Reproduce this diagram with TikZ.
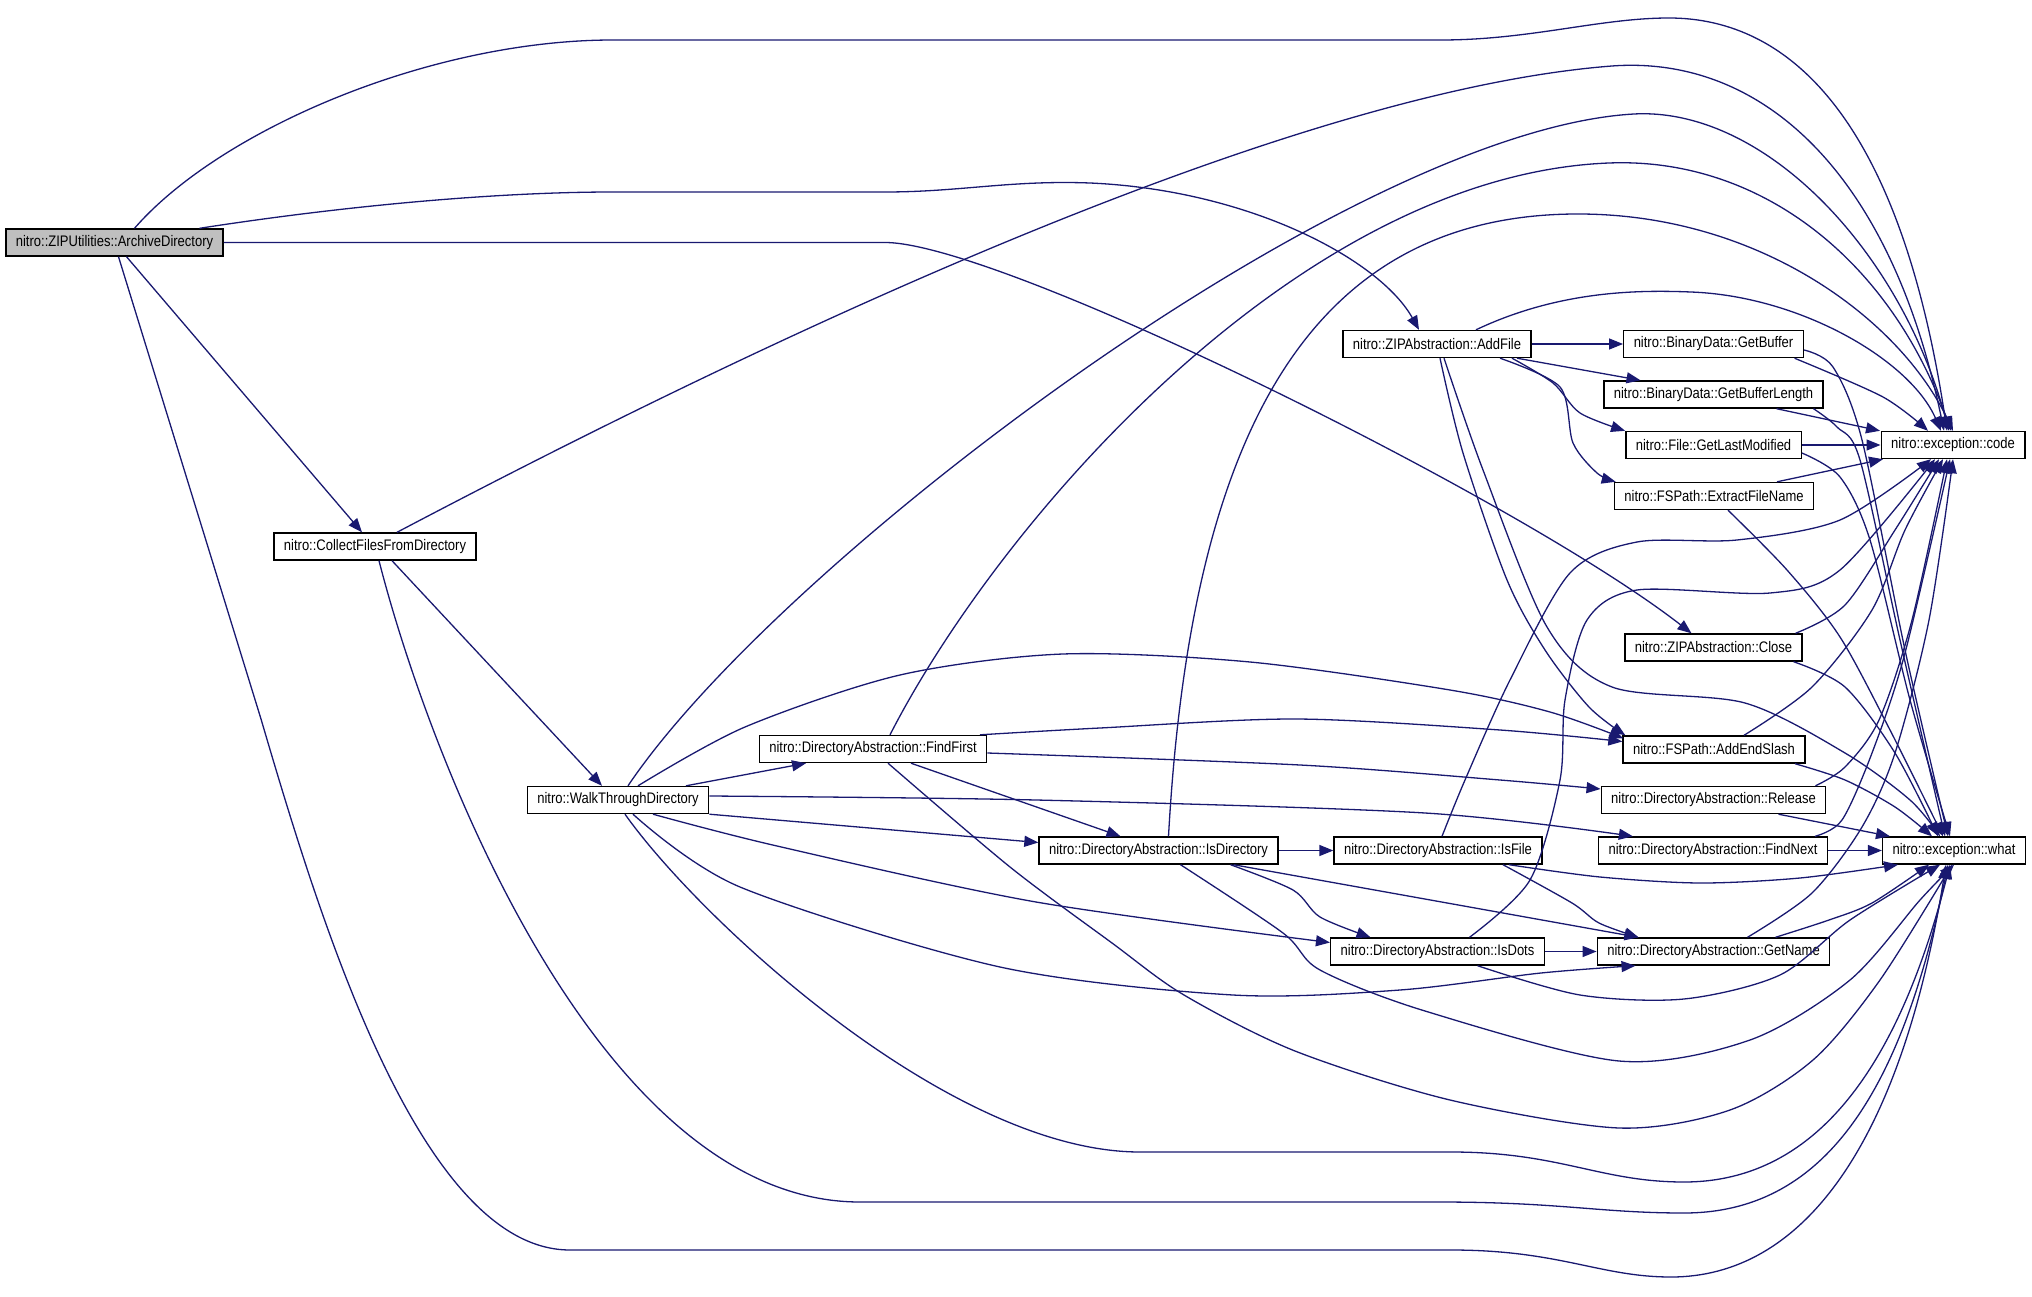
\documentclass[tikz,border=0pt]{standalone}
\usepackage{fontspec}
\newfontfamily\dotfont[FakeStretch=0.85]{Liberation Sans}
\usetikzlibrary{arrows.meta}
\definecolor{edgeblue}{RGB}{25,25,112}
\definecolor{rootgray}{RGB}{191,191,191}

\begin{document}
\begin{tikzpicture}[x=1pt,y=-1pt,
  fn/.style={draw=black, line width=1.4pt, fill=white, minimum height=27pt, inner xsep=10pt, inner ysep=0pt, font=\dotfont\fontsize{15.3pt}{16pt}\selectfont},
  root/.style={fn, fill=rootgray},
  call/.style={->, draw=edgeblue, line width=1.3pt, >={Triangle[length=14pt,width=11pt]}}]
\useasboundingbox (0,0) rectangle (2032,1297);

\node[root] (arch) at (114.5,242.5) {nitro::ZIPUtilities::ArchiveDirectory};
\node[fn] (collect) at (375,546.5) {nitro::CollectFilesFromDirectory};
\node[fn] (walk) at (618,800) {nitro::WalkThroughDirectory};
\node[fn] (findfirst) at (873,749) {nitro::DirectoryAbstraction::FindFirst};
\node[fn] (isdir) at (1158.5,850.5) {nitro::DirectoryAbstraction::IsDirectory};
\node[fn] (isfile) at (1438,850.5) {nitro::DirectoryAbstraction::IsFile};
\node[fn] (isdots) at (1437.5,951.5) {nitro::DirectoryAbstraction::IsDots};
\node[fn] (addfile) at (1437,344) {nitro::ZIPAbstraction::AddFile};
\node[fn] (getbuf) at (1713.5,344) {nitro::BinaryData::GetBuffer};
\node[fn] (getbuflen) at (1713.5,394.5) {nitro::BinaryData::GetBufferLength};
\node[fn] (lastmod) at (1713.5,445) {nitro::File::GetLastModified};
\node[fn] (extract) at (1714,496) {nitro::FSPath::ExtractFileName};
\node[fn] (close) at (1713.5,647.5) {nitro::ZIPAbstraction::Close};
\node[fn] (addslash) at (1714,749.5) {nitro::FSPath::AddEndSlash};
\node[fn] (release) at (1713.5,800) {nitro::DirectoryAbstraction::Release};
\node[fn] (findnext) at (1713,850.5) {nitro::DirectoryAbstraction::FindNext};
\node[fn] (getname) at (1713.5,951.5) {nitro::DirectoryAbstraction::GetName};
\node[fn] (code) at (1953,445) {nitro::exception::code};
\node[fn] (what) at (1954,850.5) {nitro::exception::what};

\draw[call] ([xshift=20pt]arch.north) .. controls (220,130) and (430,40) .. (613,40) -- (1441,40) .. controls (1530,40) and (1600,18) .. (1669,18) .. controls (1790,18) and (1900,120) .. ([xshift=-6pt]code.north);
\draw[call] ([xshift=85pt]arch.north) .. controls (350,205) and (500,192) .. (613,192) -- (885,192) .. controls (960,192) and (1010,180) .. (1090,183) .. controls (1250,190) and (1380,260) .. ([xshift=-18pt]addfile.north);
\draw[call] (arch.east) -- (885,242.5) .. controls (1000,242.5) and (1520,500) .. ([xshift=-22pt]close.north);
\draw[call] ([xshift=12pt]arch.south) -- ([xshift=-13pt]collect.north);
\draw[call] ([xshift=4pt]arch.south) -- (261,719) .. controls (320,920) and (420,1250) .. (570,1250) -- (1451,1250) .. controls (1560,1250) and (1600,1277) .. (1671,1277) .. controls (1800,1277) and (1900,1150) .. ([xshift=-8pt]what.south);

\draw[call] ([xshift=22pt]collect.north) .. controls (800,320) and (1300,90) .. (1612,66) .. controls (1760,55) and (1890,170) .. ([xshift=-9pt]code.north);
\draw[call] ([xshift=17pt]collect.south) -- ([xshift=-16pt]walk.north);
\draw[call] ([xshift=4pt]collect.south) .. controls (430,760) and (600,1202) .. (860,1202) -- (1438,1202) .. controls (1560,1202) and (1600,1213) .. (1684,1213) .. controls (1820,1213) and (1900,1100) .. ([xshift=-6pt]what.south);

\draw[call] ([xshift=10pt]walk.north) .. controls (780,560) and (1350,130) .. (1634,114) .. controls (1764,107) and (1900,250) .. ([xshift=-4pt]code.north);
\draw[call] ([xshift=68pt]walk.north) -- ([xshift=-67pt]findfirst.south);
\draw[call] plot[smooth] coordinates {([xshift=20pt]walk.north) (745,727) (900,675) (1063,654) (1250,662) (1450,690) (1550,712) ([xshift=1pt,yshift=-3pt]addslash.north west)};
\draw[call] plot[smooth] coordinates {([yshift=4pt]walk.east) (1036,800) (1425,813) ([xshift=35pt]findnext.north west)};
\draw[call] (walk.south east) -- ([yshift=8pt]isdir.west);
\draw[call] plot[smooth] coordinates {([xshift=35pt]walk.south) (777,846) (1036,902) ([yshift=9pt]isdots.west)};
\draw[call] plot[smooth] coordinates {([xshift=15pt]walk.south) (740,887) (1000,967) (1233,995) (1400,990) (1541,973) ([xshift=-78pt]getname.south)};
\draw[call] ([xshift=7pt]walk.south) .. controls (700,920) and (950,1152) .. (1140,1152) -- (1451,1152) .. controls (1560,1152) and (1600,1182) .. (1684,1182) .. controls (1820,1182) and (1900,1060) .. ([xshift=-4pt]what.south);

\draw[call] ([xshift=17pt]findfirst.north) .. controls (1000,520) and (1300,175) .. (1609,163) .. controls (1760,157) and (1890,260) .. ([xshift=-2pt]code.north);
\draw[call] plot[smooth] coordinates {([xshift=107pt]findfirst.north) (1100,728) (1296,719) (1500,730) ([yshift=8pt]addslash.west)};
\draw[call] plot[smooth] coordinates {([yshift=-4pt]findfirst.east) (1300,765) (1500,780) ([yshift=11pt]release.west)};
\draw[call] ([xshift=38pt]findfirst.south) -- ([xshift=-38pt]isdir.north);
\draw[call] plot[smooth] coordinates {([xshift=15pt]findfirst.south) (1010,867) (1112,943) (1184,995) (1295,1051) (1450,1100) (1619,1128) (1730,1110) (1813,1060) (1880,980) ([xshift=-2pt]what.south)};

\draw[call] ([xshift=10pt]isdir.north) .. controls (1190,450) and (1300,214) .. (1578,214) .. controls (1760,214) and (1900,320) .. (code.north);
\draw[call] (isdir) -- (isfile);
\draw[call] plot[smooth] coordinates {([xshift=72pt]isdir.south) (1293,890) (1320,917) ([xshift=-67pt]isdots.north)};
\draw[call] ([xshift=75pt]isdir.south) -- ([xshift=-75pt]getname.north);
\draw[call] plot[smooth] coordinates {([xshift=22pt]isdir.south) (1283,933) (1320,970) (1425,1011) (1619,1061) (1750,1040) (1850,980) (1920,900) (what.south)};

\draw[call] plot[smooth] coordinates {([xshift=4pt]isfile.north) (1465,780) (1510,680) (1570,573) (1637,542) (1737,540) (1840,520) ([xshift=-22pt]code.south)};
\draw[call] plot[smooth] coordinates {([xshift=65pt]isfile.south) (1572,903) (1599,923) ([xshift=-75pt]getname.north)};
\draw[call] plot[smooth] coordinates {([xshift=71pt]isfile.south) (1600,877) (1700,883) (1800,878) ([xshift=-56pt]what.south)};

\draw[call] plot[smooth] coordinates {([xshift=32pt]isdots.north) (1530,880) (1560,780) (1565,700) (1587,620) (1637,590) (1770,593) (1840,570) ([xshift=-18pt]code.south)};
\draw[call] (isdots) -- (getname);
\draw[call] plot[smooth] coordinates {([xshift=40pt]isdots.south) (1580,995) (1684,999) (1780,975) (1850,920) ([xshift=-14pt]what.south)};

\draw[call] ([xshift=39pt]addfile.north) .. controls (1560,290) and (1640,290) .. (1691,292) .. controls (1800,296) and (1910,360) .. ([xshift=-12pt]code.north);
\draw[call] (addfile) -- (getbuf);
\draw[call] ([xshift=80pt]addfile.south) -- ([xshift=-73pt]getbuflen.north);
\draw[call] plot[smooth] coordinates {([xshift=75pt]addfile.south) (1553,383) (1580,413) (lastmod.north west)};
\draw[call] plot[smooth] coordinates {([xshift=63pt]addfile.south) (1560,387) (1573,443) (1597,473) ([xshift=2pt]extract.north west)};
\draw[call] plot[smooth] coordinates {([xshift=3pt]addfile.south) (1463,453) (1507,580) (1545,650) (1589,707) ([xshift=3pt]addslash.north west)};
\draw[call] plot[smooth] coordinates {([xshift=7pt]addfile.south) (1483,470) (1547,627) (1612,687) (1745,703) (1845,753) (1910,800) ([xshift=-14pt]what.north)};

\draw[call] plot[smooth] coordinates {([xshift=81pt]getbuf.south) (1883,397) ([xshift=-25pt]code.north)};
\draw[call] plot[smooth] coordinates {([yshift=-6pt]getbuf.east) (1833,367) (1862,440) (1905,650) ([xshift=-6pt]what.north)};
\draw[call] ([xshift=63pt]getbuflen.south) -- ([xshift=-73pt]code.north);
\draw[call] plot[smooth] coordinates {([xshift=100pt]getbuflen.south) (1837,427) (1860,460) (1900,640) ([xshift=-9pt]what.north)};
\draw[call] (lastmod) -- (code);
\draw[call] plot[smooth] coordinates {([yshift=-8pt]lastmod.east) (1840,477) (1870,540) (1910,700) ([xshift=-4pt]what.north)};
\draw[call] ([xshift=63pt]extract.north) -- ([xshift=-70pt]code.south);
\draw[call] plot[smooth] coordinates {([xshift=14pt]extract.south) (1787,570) (1840,637) (1890,730) ([xshift=-11pt]what.north)};
\draw[call] plot[smooth] coordinates {([xshift=82pt]close.north) (1845,605) (1895,530) ([xshift=-14pt]code.south)};
\draw[call] plot[smooth] coordinates {([xshift=80pt]close.south) (1845,687) (1895,753) ([xshift=-16pt]what.north)};
\draw[call] plot[smooth] coordinates {([xshift=30pt]addslash.north) (1812,687) (1872,610) (1905,530) ([xshift=-10pt]code.south)};
\draw[call] plot[smooth] coordinates {([xshift=81pt]addslash.south) (1845,780) (1895,807) ([xshift=-22pt]what.north)};
\draw[call] plot[smooth] coordinates {([xshift=102pt]release.north) (1845,767) (1879,720) (1912,620) ([xshift=-6pt]code.south)};
\draw[call] ([xshift=65pt]release.south) -- ([xshift=-64pt]what.north);
\draw[call] plot[smooth] coordinates {([xshift=102pt]findnext.north) (1842,820) (1872,753) (1905,653) ([xshift=-3pt]code.south)};
\draw[call] (findnext) -- (what);
\draw[call] plot[smooth] coordinates {([xshift=34pt]getname.north) (1812,893) (1862,827) (1895,753) (1929,620) (code.south)};
\draw[call] plot[smooth] coordinates {([xshift=62pt]getname.north) (1829,920) (1872,903) ([xshift=-25pt]what.south)};
\end{tikzpicture}
\end{document}
